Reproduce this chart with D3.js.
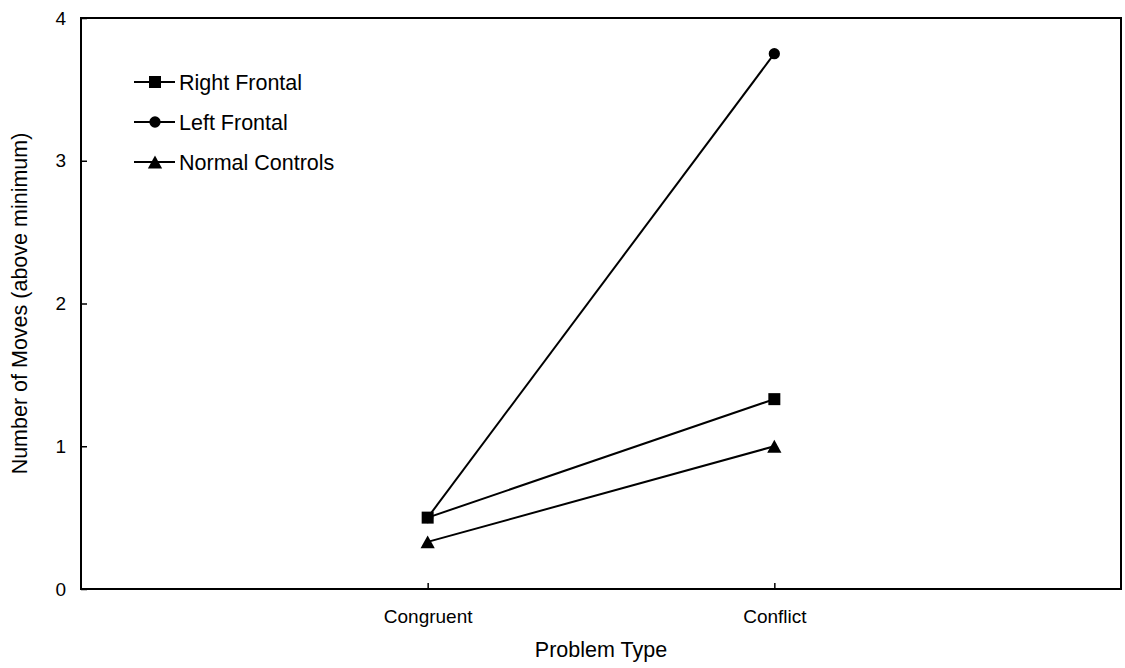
<!DOCTYPE html>
<html>
<head>
<meta charset="utf-8">
<script src="https://cdn.jsdelivr.net/npm/d3@7"></script>
<style>
  body { margin: 0; background: #fff; }
  text { font-family: Arial, 'Liberation Sans', sans-serif; fill: #000; }
</style>
</head>
<body>
<svg class="chart"></svg>
<script>
const problemTypes = ['Congruent', 'Conflict'];
const rightFrontal = [0.5, 1.33];
const leftFrontal = [0.5, 3.75];
const normalControls = [0.33, 1.0];
const yTicks = [0, 1, 2, 3, 4];

// triangle centred on its bounding box, like the original markers
const triangleBox = {
  draw(context, size) {
    const h = Math.sqrt(size * 1.2);
    const w = h * 1.1;
    context.moveTo(0, -h / 2);
    context.lineTo(w / 2, h / 2);
    context.lineTo(-w / 2, h / 2);
    context.closePath();
  }
};

const series = [
  { name: 'Right Frontal', values: rightFrontal, symbol: d3.symbolSquare, size: 144 },
  { name: 'Left Frontal', values: leftFrontal, symbol: d3.symbolCircle, size: 100 },
  { name: 'Normal Controls', values: normalControls, symbol: triangleBox, size: 140 }
];

const startApp = () => {
  const width = 1125;
  const height = 668;
  const margin = { top: 18, right: 4, bottom: 79, left: 81 };
  const w = width - margin.left - margin.right;
  const h = height - margin.top - margin.bottom;

  const svg = d3.select('.chart').attr('width', width).attr('height', height);
  const g = svg.append('g').attr('transform', `translate(${margin.left},${margin.top})`);

  const x = d3.scalePoint().domain(problemTypes).range([0, w]).padding(1);
  const y = d3.scaleLinear().domain([0, 4]).range([h, 0]);

  const yAxis = g.append('g')
    .call(d3.axisLeft(y).tickValues(yTicks).tickFormat(d3.format('d'))
      .tickSizeInner(-6).tickSizeOuter(0).tickPadding(15));
  yAxis.select('.domain').remove();
  yAxis.selectAll('line').attr('stroke', '#000').attr('stroke-width', 1.5);
  yAxis.selectAll('text').style('font-size', '19px');

  const xAxis = g.append('g')
    .attr('transform', `translate(0,${h})`)
    .call(d3.axisBottom(x).tickSizeInner(-6).tickSizeOuter(0).tickPadding(21));
  xAxis.select('.domain').remove();
  xAxis.selectAll('line').attr('stroke', '#000').attr('stroke-width', 1.5);
  xAxis.selectAll('text').style('font-size', '19px');

  // frame
  g.append('rect')
    .attr('width', w).attr('height', h)
    .attr('fill', 'none').attr('stroke', '#000').attr('stroke-width', 2);

  const line = d3.line()
    .x((d, i) => x(problemTypes[i]))
    .y(d => y(d));

  const groups = g.selectAll('.series')
    .data(series)
    .enter()
    .append('g')
    .attr('class', 'series');

  groups.append('path')
    .attr('d', d => line(d.values))
    .attr('fill', 'none')
    .attr('stroke', '#000')
    .attr('stroke-width', 2);

  groups.each(function (s) {
    d3.select(this).selectAll('.pt')
      .data(s.values)
      .enter()
      .append('path')
      .attr('class', 'pt')
      .attr('transform', (d, i) => `translate(${x(problemTypes[i])},${y(d)})`)
      .attr('d', d3.symbol().type(s.symbol).size(s.size));
  });

  // legend
  const legend = svg.append('g').attr('transform', 'translate(134,82)');
  const item = legend.selectAll('.item')
    .data(series)
    .enter()
    .append('g')
    .attr('class', 'item')
    .attr('transform', (d, i) => `translate(0,${i * 40})`);

  item.append('line')
    .attr('x1', 0).attr('x2', 41)
    .attr('stroke', '#000').attr('stroke-width', 2);
  item.append('path')
    .attr('transform', 'translate(21,0)')
    .attr('d', d => d3.symbol().type(d.symbol).size(d.size)());
  item.append('text')
    .attr('x', 45)
    .attr('dy', '0.36em')
    .style('font-size', '21.5px')
    .text(d => d.name);

  // axis titles
  svg.append('text')
    .attr('x', margin.left + w / 2)
    .attr('y', 657)
    .attr('text-anchor', 'middle')
    .style('font-size', '21.5px')
    .text('Problem Type');

  svg.append('text')
    .attr('transform', `translate(27,${margin.top + h / 2}) rotate(-90)`)
    .attr('text-anchor', 'middle')
    .style('font-size', '21.5px')
    .text('Number of Moves (above minimum)');
};

window.onload = startApp;
</script>
</body>
</html>
